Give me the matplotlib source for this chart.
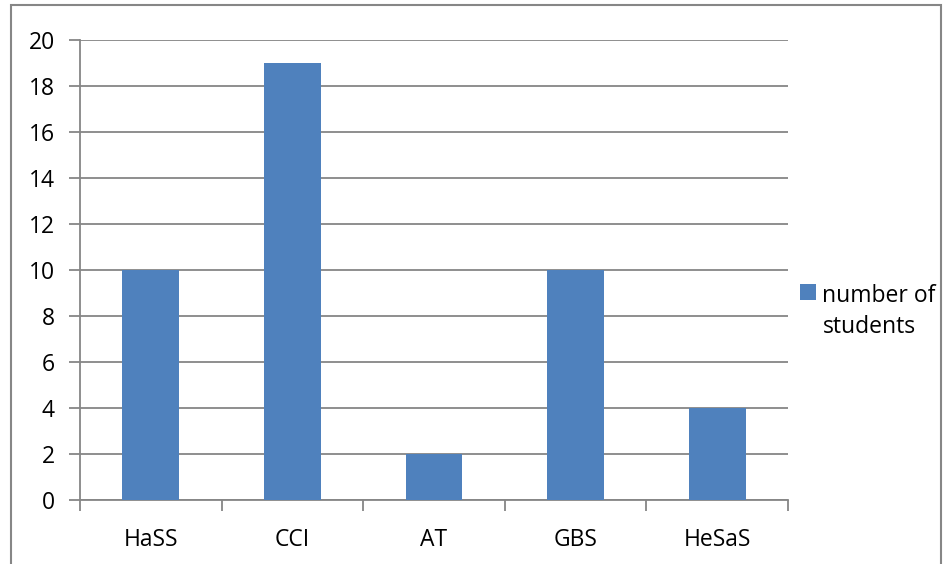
import matplotlib.pyplot as plt
from matplotlib.patches import Rectangle

categories = ['HaSS', 'CCI', 'AT', 'GBS', 'HeSaS']
students = [10, 19, 2, 10, 4]
y_ticks = list(range(0, 21, 2))

plt.rcParams['font.family'] = ['Open Sans', 'DejaVu Sans']

W, H = 943, 564
fig = plt.figure(figsize=(W / 100, H / 100), dpi=100)
grid_col = '#868686'
fs = 16.5

# outer chart border
fig.patches.append(Rectangle((11 / W, -0.05), 930 / W, 1.05 - 5 / H,
                             transform=fig.transFigure, fill=False,
                             edgecolor=grid_col, linewidth=1.5))

ax = fig.add_axes([80 / W, 1 - 500 / H, 708 / W, 460 / H])
x = range(len(categories))
bars = ax.bar(x, students, width=0.4, color='#4F81BD', zorder=3,
              label='number of\nstudents')

ax.set_xlim(-0.5, len(categories) - 0.5)
ax.set_ylim(0, 20)
ax.set_yticks(y_ticks)
ax.set_yticklabels([str(t) for t in y_ticks], fontsize=fs)
ax.yaxis.grid(True, color=grid_col, linewidth=1.3, zorder=0)

ax.set_xticks([i - 0.5 for i in range(len(categories) + 1)], minor=False)
ax.set_xticklabels([])
ax.set_xticks(list(x), minor=True)
ax.set_xticklabels(categories, minor=True, fontsize=fs)
ax.tick_params(axis='x', which='major', length=8, width=1.3, color=grid_col)
ax.tick_params(axis='x', which='minor', length=0, pad=20)
ax.tick_params(axis='y', length=8, width=1.3, color=grid_col, pad=10)

for side in ['top', 'right']:
    ax.spines[side].set_visible(False)
for side in ['left', 'bottom']:
    ax.spines[side].set_color(grid_col)
    ax.spines[side].set_linewidth(1.3)

leg = fig.legend(handles=[bars], loc='upper left', bbox_to_anchor=(800 / W, 1 - 284 / H),
                 frameon=False, fontsize=fs, handlelength=0.68, handleheight=0.68,
                 handletextpad=0.3, borderaxespad=0, borderpad=0, labelspacing=0)
for t in leg.get_texts():
    t.set_linespacing(1.4)
# keep the swatch level with the first line of text
for col in leg._legend_handle_box.get_children():
    for row in col.get_children():
        row.align = 'top'

fig.savefig('out.png', dpi=100)
